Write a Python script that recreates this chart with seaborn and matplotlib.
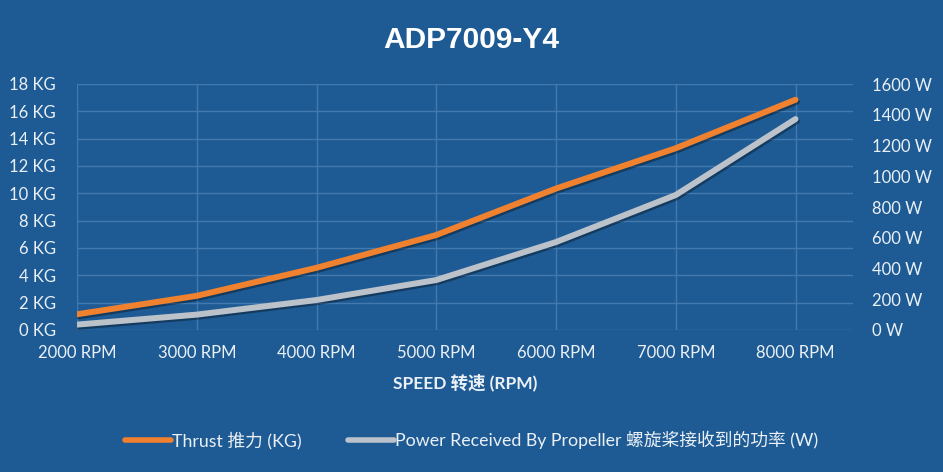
#!/usr/bin/env python3
"""ADP7009-Y4 thrust / power vs speed chart."""

import matplotlib
matplotlib.use("Agg")
import matplotlib.pyplot as plt
import matplotlib.patheffects as pe
import pandas as pd
import seaborn as sns

speeds = ["2000 RPM", "3000 RPM", "4000 RPM", "5000 RPM", "6000 RPM", "7000 RPM", "8000 RPM"]
thrust_kg = [1.15, 2.5, 4.55, 6.95, 10.35, 13.3, 16.85]
power_w = [35, 100, 195, 325, 572, 878, 1372]

kg_ticks = list(range(0, 19, 2))
w_ticks = list(range(0, 1601, 200))

BG = "#1e5b94"
GRID = "#4279af"
ORANGE = "#f0812f"
GRAY = "#bcc2ca"
TEXT = "#eaf0f6"
FONTS = ["Lato", "Noto Sans CJK SC", "DejaVu Sans"]
BOLD_FONTS = ["Liberation Sans", "Noto Sans CJK SC", "DejaVu Sans"]

df = pd.DataFrame({"speed": speeds, "thrust": thrust_kg, "power": power_w})

sns.set_theme(style="dark")
plt.rcParams["font.family"] = FONTS

W, H = 943, 472
fig = plt.figure(figsize=(W / 100, H / 100), dpi=100, facecolor=BG)
ax = fig.add_axes([77 / W, 1 - 330 / H, (853 - 77) / W, (330 - 84) / H])
ax.set_facecolor(BG)
ax2 = ax.twinx()

shadow = [pe.SimpleLineShadow(offset=(1, -1.5), shadow_color="black", alpha=0.35), pe.Normal()]

sns.lineplot(data=df, x="speed", y="thrust", ax=ax, color=ORANGE, linewidth=4.3,
             sort=False, legend=False, path_effects=shadow, solid_capstyle="round")
sns.lineplot(data=df, x="speed", y="power", ax=ax2, color=GRAY, linewidth=4.3,
             sort=False, legend=False, path_effects=shadow, solid_capstyle="round")

for a in (ax, ax2):
    a.set_xlim(0, 6.48)
    for s in a.spines.values():
        s.set_visible(False)
    a.tick_params(length=0, colors=TEXT, labelsize=12)
    a.set_ylabel("")
    a.set_xlabel("")

ax.set_ylim(0, 18)
ax.set_yticks(kg_ticks)
ax.set_yticklabels([f"{v} KG" for v in kg_ticks])
ax.tick_params(axis="y", pad=15)
ax.tick_params(axis="x", pad=11)
ax2.set_ylim(0, 1600)
ax2.set_yticks(w_ticks)
ax2.set_yticklabels([f"{v} W" for v in w_ticks])
ax2.tick_params(axis="y", pad=14)
ax2.grid(False)

ax.grid(True, color=GRID, linewidth=1.0)
ax.set_axisbelow(True)

ax.set_xlabel("SPEED 转速 (RPM)", color=TEXT, fontsize=12.5, fontweight="bold", labelpad=9)

fig.text(0.5, 1 - 40 / H, "ADP7009-Y4", ha="center", va="center", color="white",
         fontsize=21.5, fontweight="bold", family=BOLD_FONTS)

handles = ax.get_lines()[:1] + ax2.get_lines()[:1]
labels = ["Thrust 推力 (KG)", "Power Received By Propeller 螺旋桨接收到的功率 (W)"]
leg = fig.legend(handles, labels, loc="center", bbox_to_anchor=(0.5, 1 - 440 / H), ncol=2,
                 frameon=False, fontsize=12.8, handlelength=2.6, handletextpad=0.05,
                 columnspacing=2.6, labelcolor=TEXT)
for line in leg.get_lines():
    line.set_path_effects([])
    line.set_linewidth(4)

fig.savefig("out.png", dpi=100, facecolor=BG)
